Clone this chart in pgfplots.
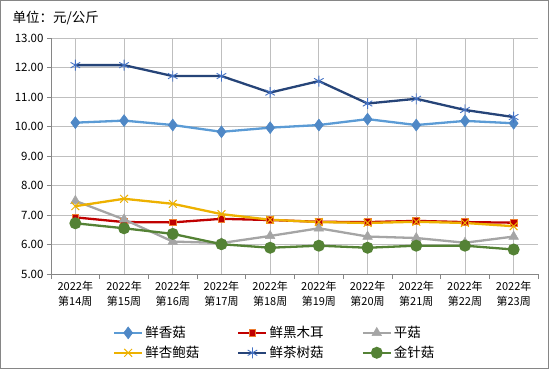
\documentclass[border=0pt]{standalone}
\usepackage{pgfplots}
\pgfplotsset{compat=1.18}
\usepackage{fontspec}
\setmainfont{Noto Sans CJK SC}
\definecolor{cXG}{RGB}{91,155,213}
\definecolor{cXGm}{RGB}{79,136,198}
\definecolor{cHM}{RGB}{192,0,0}
\definecolor{cHMe}{RGB}{237,125,49}
\definecolor{cPG}{RGB}{165,165,165}
\definecolor{cXB}{RGB}{237,177,0}
\definecolor{cCS}{RGB}{38,68,120}
\definecolor{cCSm}{RGB}{68,114,196}
\definecolor{cJZ}{RGB}{84,130,53}
\definecolor{grid}{RGB}{134,134,134}
\begin{document}
\begin{tikzpicture}
\draw[grid, line width=0.8bp] (0.5bp,-0.5bp) rectangle (548.5bp,-368.5bp);
\path (0,0) rectangle (550bp,-370bp);
\node[anchor=west, font=\fontsize{13.5bp}{15bp}\selectfont] at (9bp,-18bp) {单位：元/公斤};
\begin{axis}[
  at={(51bp,-274bp)}, anchor=south west,
  scale only axis, width=487bp, height=236bp,
  xmin=-0.5, xmax=9.5, ymin=5, ymax=13,
  xtick={0,...,9},
  xticklabels={{2022年\\第14周},{2022年\\第15周},{2022年\\第16周},{2022年\\第17周},{2022年\\第18周},{2022年\\第19周},{2022年\\第20周},{2022年\\第21周},{2022年\\第22周},{2022年\\第23周}},
  xticklabel style={align=center, font=\fontsize{11bp}{15bp}\selectfont},
  minor xtick={-0.5,0.5,...,9.5},
  major x tick style={draw=none},
  minor x tick style={grid, line width=0.8bp},
  ytick={5,6,...,13},
  yticklabel style={font=\fontsize{11.5bp}{13bp}\selectfont},
  y tick style={grid, line width=0.8bp},
  tick align=outside,
  major tick length=4bp, minor tick length=5bp,
  /pgf/number format/.cd, fixed, fixed zerofill, precision=2, assume math mode=true,
  /pgfplots/.cd,
  ymajorgrids, major grid style={grid, line width=0.8bp},
  axis x line*=bottom, axis y line*=left,
  axis line style={grid, line width=0.8bp},
  x axis line style={-}, y axis line style={-},
  legend columns=3,
  legend cell align=left,
  legend style={draw=none, fill=none, inner sep=0pt,
    at={(0.127,-0.213)}, anchor=north west,
    font=\fontsize{13.5bp}{15bp}\selectfont,
    row sep=3bp,
    /tikz/every even column/.append style={column sep=36bp}},
  legend image code/.code={\draw[mark repeat=2, mark phase=2] plot coordinates {(0bp,0bp)(14bp,0bp)(28bp,0bp)};},
  every axis plot/.append style={line width=2.3bp},
]
\addplot[color=cXG, mark=diamond*, mark size=6bp, mark options={fill=cXGm, draw=cXGm, line width=0.5bp}]
 coordinates {(0,10.13)(1,10.20)(2,10.05)(3,9.82)(4,9.96)(5,10.05)(6,10.25)(7,10.05)(8,10.19)(9,10.11)};
\addlegendentry{鲜香菇}
\addplot[color=cHM, mark=square*, mark size=3.4bp, mark options={fill=cHM, draw=cHMe, line width=0.8bp}]
 coordinates {(0,6.92)(1,6.76)(2,6.75)(3,6.87)(4,6.83)(5,6.77)(6,6.76)(7,6.80)(8,6.76)(9,6.74)};
\addlegendentry{鲜黑木耳}
\addplot[color=cPG, mark=triangle*, mark size=5.5bp, mark options={fill=cPG, draw=cPG, line width=0.5bp}]
 coordinates {(0,7.48)(1,6.85)(2,6.10)(3,6.05)(4,6.29)(5,6.55)(6,6.27)(7,6.22)(8,6.06)(9,6.27)};
\addlegendentry{平菇}
\addplot[color=cXB, mark=x, mark size=5.5bp, mark options={draw=cXB, line width=1bp}]
 coordinates {(0,7.30)(1,7.55)(2,7.38)(3,7.03)(4,6.84)(5,6.76)(6,6.73)(7,6.77)(8,6.73)(9,6.62)};
\addlegendentry{鲜杏鲍菇}
\addplot[color=cCS, mark=asterisk, mark size=5.5bp, mark options={draw=cCSm, line width=0.9bp}]
 coordinates {(0,12.08)(1,12.08)(2,11.71)(3,11.71)(4,11.15)(5,11.54)(6,10.78)(7,10.94)(8,10.56)(9,10.32)};
\addlegendentry{鲜茶树菇}
\addplot[color=cJZ, mark=*, mark size=4.8bp, mark options={fill=cJZ, draw=cJZ}]
 coordinates {(0,6.72)(1,6.55)(2,6.36)(3,6.01)(4,5.89)(5,5.96)(6,5.89)(7,5.96)(8,5.96)(9,5.83)};
\addlegendentry{金针菇}
\end{axis}
\end{tikzpicture}
\end{document}
